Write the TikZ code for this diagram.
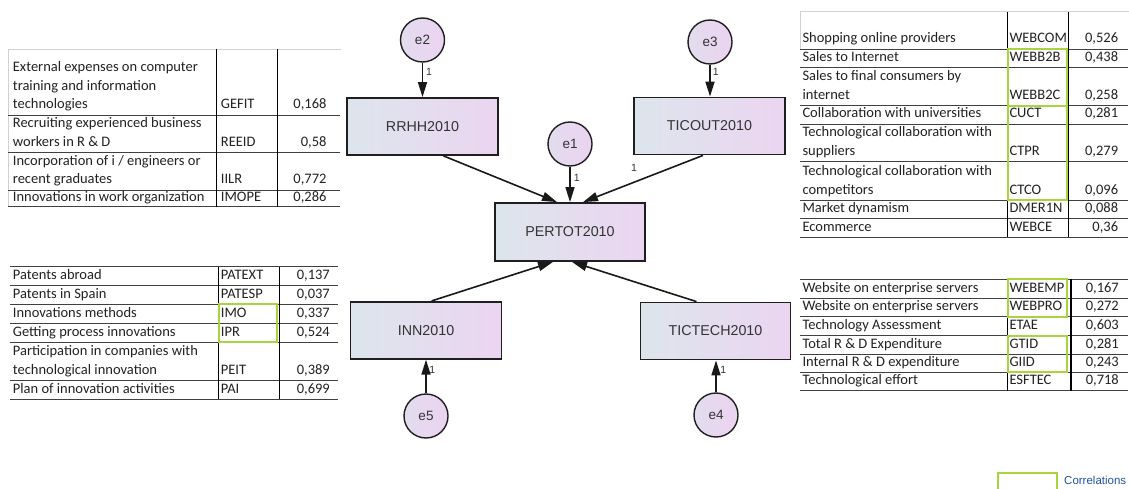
\documentclass[tikz,border=0pt]{standalone}
\usepackage{fontspec}
\setmainfont{Carlito}
\newfontfamily\arialf{Liberation Sans}
\usetikzlibrary{arrows.meta}
\definecolor{boxL}{HTML}{DDE5EC}
\definecolor{boxR}{HTML}{EBD5F1}
\definecolor{cirL}{HTML}{E2DCEE}
\definecolor{cirR}{HTML}{ECD3F0}
\definecolor{grn}{RGB}{168,212,62}
\definecolor{lnk}{RGB}{35,80,165}
\definecolor{txt}{HTML}{222222}
\tikzset{
  box/.style={draw=black!88, line width=1.8pt, left color=boxL, right color=boxR,
    minimum width=151pt, minimum height=57pt, inner sep=0pt,
    font=\arialf\fontsize{14.3}{16}\selectfont, text=black!80},
  err/.style={circle, draw=black!88, line width=1.4pt, left color=cirL, right color=cirR,
    minimum size=44pt, inner sep=0pt, font=\arialf\fontsize{13.5}{15}\selectfont, text=black!80},
  arr/.style={line width=1.6pt, draw=black!90, -{Triangle[length=15pt,width=9pt]}},
  one/.style={font=\arialf\fontsize{10.5}{11}\selectfont, text=black!80, inner sep=0pt},
  tl/.style={anchor=base west, inner sep=0pt, font=\fontsize{14.5}{17}\selectfont, text=txt},
  tv/.style={anchor=base east, inner sep=0pt, font=\fontsize{14.5}{17}\selectfont, text=txt},
  hl/.style={draw=black!75, line width=0.9pt},
  vl/.style={draw=black, line width=1.3pt},
  fr/.style={draw=black!18, line width=0.8pt},
  gb/.style={draw=grn, line width=1.8pt},
}
\begin{document}
\begin{tikzpicture}[x=1pt,y=-1pt]
\useasboundingbox (0,0) rectangle (1129,489);
\fill[white] (0,0) rectangle (1129,489);

% ---------------- diagram ----------------
\node[box] (rrhh) at (422.5,126.5) {RRHH2010};
\node[box] (ticout) at (709.5,126) {TICOUT2010};
\node[box, minimum width=150pt, minimum height=58pt] (pertot) at (570,232) {PERTOT2010};
\node[box] (inn) at (426,330.3) {INN2010};
\node[box, minimum width=150pt] (tictech) at (715.5,331) {TICTECH2010};
\node[err] (e2) at (422.5,40) {e2};
\node[err] (e3) at (710,42) {e3};
\node[err] (e1) at (570,144) {e1};
\node[err] (e5) at (426,416) {e5};
\node[err] (e4) at (716,415) {e4};

\draw[arr] (e2.south) -- (e2.south |- rrhh.north);
\draw[arr] (e3.south) -- (e3.south |- ticout.north);
\draw[arr] (e1.south) -- (e1.south |- pertot.north);
\draw[arr] (e5.north) -- (e5.north |- inn.south);
\draw[arr] (e4.north) -- (e4.north |- tictech.south);
\draw[arr] ([xshift=21pt]rrhh.south) -- ([xshift=-13pt]pertot.north);
\draw[arr] ([xshift=-6.5pt]ticout.south) -- ([xshift=13pt]pertot.north);
\draw[arr] ([xshift=5.7pt]inn.north) -- ([xshift=-17pt]pertot.south);
\draw[arr] ([xshift=-19pt]tictech.north) -- ([xshift=2pt]pertot.south);

\node[one] (o2) at (429,72) {1};
\node[one] (o3) at (715.7,71.7) {1};
\node[one] (o1) at (576.7,178) {1};
\node[one] (o6) at (634,168.3) {1};
\node[one] (o5) at (432.3,370) {1};
\node[one] (o4) at (723.3,370) {1};

% ---------------- left top table ----------------
\draw[fr] (8.3,206.7) -- (8.3,49) -- (341,49);
\foreach \y in {115,152.7,190,206.7} \draw[hl] (8.3,\y) -- (340,\y);
\draw[vl] (216.7,49) -- (216.7,206.7);
\draw[vl] (277.3,49) -- (277.3,206.7);
\node[tl] (a1) at (12.7,71.6) {External expenses on computer};
\node[tl] (a2) at (12.7,90.3) {training and information};
\node[tl] (a3) at (12.7,109) {technologies};
\node[tl] (a4) at (220.7,109) {GEFIT};
\node[tv] (a5) at (326.7,109) {0,168};
\node[tl] (a6) at (12.7,128) {Recruiting experienced business};
\node[tl] (a7) at (12.7,146.7) {workers in R \& D};
\node[tl] (a8) at (220.7,146.7) {REEID};
\node[tv] (a9) at (326.7,146.7) {0,58};
\node[tl] (a10) at (12.7,165.3) {Incorporation of i / engineers or};
\node[tl] (a11) at (12.7,184) {recent graduates};
\node[tl] (a12) at (220.7,184) {IILR};
\node[tv] (a13) at (326.7,184) {0,772};
\node[tl] (a14) at (12.7,201.3) {Innovations in work organization};
\node[tl] (a15) at (220.7,201.3) {IMOPE};
\node[tv] (a16) at (326.7,201.3) {0,286};

% ---------------- left bottom table ----------------
\foreach \y in {266.7,285.7,304.3,323.3,342.3,380,399} \draw[hl] (10,\y) -- (338,\y);
\draw[vl] (218.3,266.7) -- (218.3,399);
\draw[vl] (279.3,266.7) -- (279.3,399);
\draw[gb] (219.3,304.3) rectangle (277.3,342.3);
\node[tl] (b1) at (12.7,279.7) {Patents abroad};
\node[tl] (b2) at (220.7,279.7) {PATEXT};
\node[tv] (b3) at (330,279.7) {0,137};
\node[tl] (b4) at (12.7,298.3) {Patents in Spain};
\node[tl] (b5) at (220.7,298.3) {PATESP};
\node[tv] (b6) at (330,298.3) {0,037};
\node[tl] (b7) at (12.7,317.3) {Innovations methods};
\node[tl] (b8) at (220.7,317.3) {IMO};
\node[tv] (b9) at (330,317.3) {0,337};
\node[tl] (b10) at (12.7,336.3) {Getting process innovations};
\node[tl] (b11) at (220.7,336.3) {IPR};
\node[tv] (b12) at (330,336.3) {0,524};
\node[tl] (b13) at (12.7,355.3) {Participation in companies with};
\node[tl] (b14) at (12.7,374) {technological innovation};
\node[tl] (b15) at (220.7,374) {PEIT};
\node[tv] (b16) at (330,374) {0,389};
\node[tl] (b17) at (12.7,393) {Plan of innovation activities};
\node[tl] (b18) at (220.7,393) {PAI};
\node[tv] (b19) at (330,393) {0,699};

% ---------------- right top table ----------------
\draw[fr] (800,49) -- (800,11) -- (1129,11);
\foreach \y in {49,67.7,105.7,124,161.7,200,218.3,237.3} \draw[hl] (800,\y) -- (1128,\y);
\draw[vl] (1007.3,11.7) -- (1007.3,237.3);
\draw[vl] (1068.3,11.7) -- (1068.3,237.3);
\draw[gb] (1008.3,49) rectangle (1067.3,105.7);
\draw[gb] (1008.3,106.3) rectangle (1067.3,200);
\node[tl] (c1) at (802.3,43) {Shopping online providers};
\node[tl] (c2) at (1009.3,43) {WEBCOM};
\node[tv] (c3) at (1118.3,43) {0,526};
\node[tl] (c4) at (802.3,61.7) {Sales to Internet};
\node[tl] (c5) at (1009.3,61.7) {WEBB2B};
\node[tv] (c6) at (1118.3,61.7) {0,438};
\node[tl] (c7) at (802.3,81) {Sales to final consumers by};
\node[tl] (c8) at (802.3,99.7) {internet};
\node[tl] (c9) at (1009.3,99.7) {WEBB2C};
\node[tv] (c10) at (1118.3,99.7) {0,258};
\node[tl] (c11) at (802.3,118) {Collaboration with universities};
\node[tl] (c12) at (1009.3,118) {CUCT};
\node[tv] (c13) at (1118.3,118) {0,281};
\node[tl] (c14) at (802.3,137) {Technological collaboration with};
\node[tl] (c15) at (802.3,155.7) {suppliers};
\node[tl] (c16) at (1009.3,155.7) {CTPR};
\node[tv] (c17) at (1118.3,155.7) {0,279};
\node[tl] (c18) at (802.3,175.3) {Technological collaboration with};
\node[tl] (c19) at (802.3,194) {competitors};
\node[tl] (c20) at (1009.3,194) {CTCO};
\node[tv] (c21) at (1118.3,194) {0,096};
\node[tl] (c22) at (802.3,212.3) {Market dynamism};
\node[tl] (c23) at (1009.3,212.3) {DMER1N};
\node[tv] (c24) at (1118.3,212.3) {0,088};
\node[tl] (c25) at (802.3,231.3) {Ecommerce};
\node[tl] (c26) at (1009.3,231.3) {WEBCE};
\node[tv] (c27) at (1118.3,231.3) {0,36};

% ---------------- right bottom table ----------------
\foreach \y in {279.3,298.3,316.7,335.7,354,372.3,390.7} \draw[hl] (800,\y) -- (1128,\y);
\draw[vl] (1007.3,279.3) -- (1007.3,390.7);
\draw[vl] (1071,279.3) -- (1071,390.7);
\draw[gb] (1008.3,279.3) rectangle (1067.3,316.7);
\draw[gb] (1008.3,335.7) rectangle (1067.3,372.3);
\node[tl] (d1) at (802.3,292.3) {Website on enterprise servers};
\node[tl] (d2) at (1009.3,292.3) {WEBEMP};
\node[tv] (d3) at (1119,292.3) {0,167};
\node[tl] (d4) at (802.3,310.7) {Website on enterprise servers};
\node[tl] (d5) at (1009.3,310.7) {WEBPRO};
\node[tv] (d6) at (1119,310.7) {0,272};
\node[tl] (d7) at (802.3,329.7) {Technology Assessment};
\node[tl] (d8) at (1009.3,329.7) {ETAE};
\node[tv] (d9) at (1119,329.7) {0,603};
\node[tl] (d10) at (802.3,348) {Total R \& D Expenditure};
\node[tl] (d11) at (1009.3,348) {GTID};
\node[tv] (d12) at (1119,348) {0,281};
\node[tl] (d13) at (802.3,366.3) {Internal R \& D expenditure};
\node[tl] (d14) at (1009.3,366.3) {GIID};
\node[tv] (d15) at (1119,366.3) {0,243};
\node[tl] (d16) at (802.3,384.7) {Technological effort};
\node[tl] (d17) at (1009.3,384.7) {ESFTEC};
\node[tv] (d18) at (1119,384.7) {0,718};

% ---------------- legend ----------------
\begin{scope}
\clip (0,0) rectangle (1129,489);
\draw[gb] (998.3,473.3) rectangle (1056.7,495);
\node[anchor=base west, inner sep=0pt, font=\arialf\fontsize{11.5}{13}\selectfont, text=lnk] (leg) at (1064,484) {Correlations};
\end{scope}
\end{tikzpicture}
\end{document}
